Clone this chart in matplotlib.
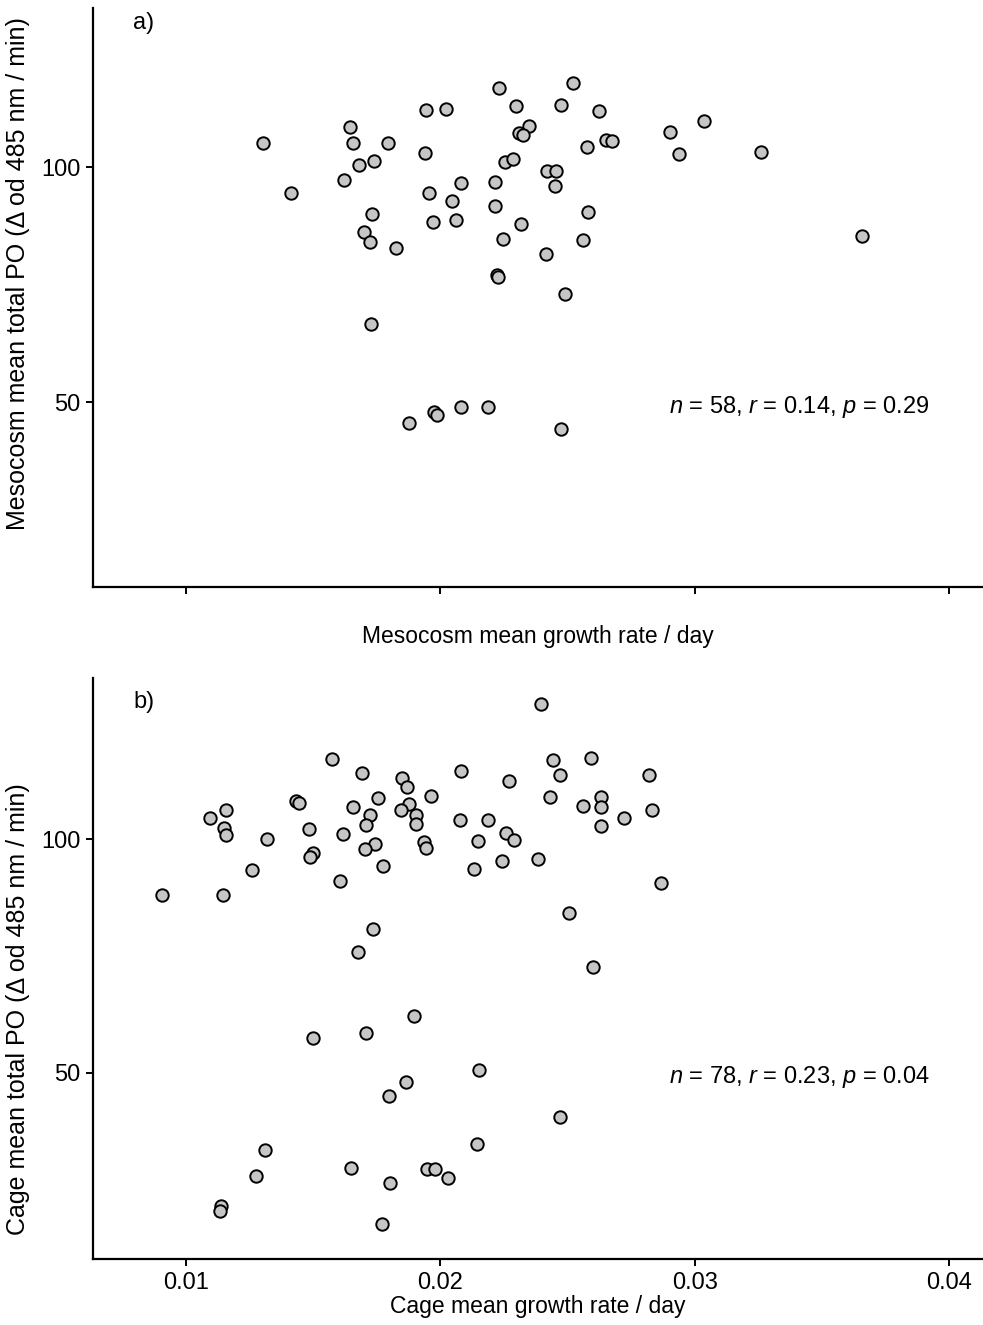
import matplotlib
matplotlib.use("Agg")
import matplotlib.pyplot as plt

plt.rcParams['font.family'] = ['Liberation Sans', 'DejaVu Sans']
plt.rcParams['mathtext.fontset'] = 'custom'
plt.rcParams['mathtext.rm'] = 'Liberation Sans'
plt.rcParams['mathtext.it'] = 'Liberation Sans:italic'

# Panel a) mesocosm means
meso_growth = [
    0.01305, 0.01413, 0.01647, 0.01659, 0.01793, 0.01738, 0.01682, 0.01620,
    0.01731, 0.01701, 0.01725, 0.01827, 0.01727, 0.01946, 0.02024, 0.01942,
    0.01954, 0.02080, 0.02048, 0.02063, 0.01973, 0.02233, 0.02299, 0.02349,
    0.02309, 0.02324, 0.02254, 0.02287, 0.02215, 0.02215, 0.02318, 0.02246,
    0.02224, 0.02227, 0.02523, 0.02476, 0.02418, 0.02457, 0.02451, 0.02417,
    0.02490, 0.02624, 0.02578, 0.02651, 0.02677, 0.02903, 0.03038, 0.02937,
    0.03262, 0.03658, 0.02582, 0.02560, 0.01878, 0.01975, 0.01988, 0.02082,
    0.02187, 0.02475,
]
meso_po = [
    105.2, 94.6, 108.6, 105.1, 105.2, 101.4, 100.4, 97.2,
    90.1, 86.2, 84.1, 82.9, 66.7, 112.1, 112.5, 103.0,
    94.6, 96.6, 92.9, 88.8, 88.4, 116.9, 113.1, 108.7,
    107.2, 106.9, 101.2, 101.7, 96.8, 91.7, 87.9, 84.8,
    77.0, 76.7, 117.9, 113.2, 99.3, 99.3, 96.1, 81.6,
    73.0, 111.9, 104.4, 105.9, 105.5, 107.5, 109.8, 102.8,
    103.3, 85.3, 90.5, 84.6, 45.6, 47.9, 47.3, 49.0,
    49.0, 44.3,
]

# Panel b) cage means
cage_growth = [
    0.02396, 0.01574, 0.01693, 0.01851, 0.01868, 0.02082, 0.02269, 0.02444,
    0.02471, 0.02433, 0.01433, 0.01444, 0.01757, 0.01962, 0.01656, 0.01877,
    0.01846, 0.01724, 0.01906, 0.01903, 0.01707, 0.01156, 0.01095, 0.01149,
    0.01156, 0.01319, 0.01485, 0.01618, 0.02076, 0.02189, 0.02260, 0.02290,
    0.02149, 0.01938, 0.01945, 0.01745, 0.01706, 0.01499, 0.01487, 0.01259,
    0.01774, 0.02131, 0.02242, 0.02385, 0.01607, 0.00906, 0.01148, 0.02505,
    0.01736, 0.01678, 0.02592, 0.02821, 0.02631, 0.02560, 0.02631, 0.02724,
    0.02834, 0.02631, 0.02869, 0.02599, 0.01896, 0.01709, 0.01498, 0.02151,
    0.01865, 0.01799, 0.02472, 0.02145, 0.01311, 0.01650, 0.01948, 0.01978,
    0.02029, 0.01275, 0.01801, 0.01137, 0.01133, 0.01770,
]
cage_po = [
    128.9, 117.1, 114.1, 113.1, 111.1, 114.5, 112.5, 116.9,
    113.7, 109.1, 108.2, 107.8, 108.9, 109.2, 106.9, 107.6,
    106.2, 105.1, 105.1, 103.2, 103.1, 106.3, 104.6, 102.4,
    100.9, 100.1, 102.1, 101.2, 104.0, 104.0, 101.4, 99.85,
    99.7, 99.3, 98.1, 98.9, 97.8, 97.1, 96.2, 93.3,
    94.3, 93.6, 95.3, 95.8, 91.0, 88.0, 88.0, 84.1,
    80.7, 75.9, 117.3, 113.7, 109.1, 107.0, 106.9, 104.6,
    106.3, 102.9, 90.6, 72.7, 62.2, 58.5, 57.4, 50.5,
    48.1, 44.9, 40.5, 34.7, 33.5, 29.6, 29.4, 29.4,
    27.4, 27.8, 26.4, 21.4, 20.4, 17.6,
]

x_ticks = [0.01, 0.02, 0.03, 0.04]
x_ticklabels = ['0.01', '0.02', '0.03', '0.04']
y_ticks = [50, 100]

panels = [
    dict(x=meso_growth, y=meso_po, tag='a)',
         xlabel='Mesocosm mean growth rate / day',
         ylabel='Mesocosm mean total PO (\u0394 od 485 nm / min)',
         stats=r'$n$ = 58, $r$ = 0.14, $p$ = 0.29',
         rect=[0.0946, 0.557, 0.9044, 0.437], ylim=(10.7, 133.9),
         show_xticklabels=False, ylabel_y=0.542, tag_y=0.974, xlabel_y=-0.066),
    dict(x=cage_growth, y=cage_po, tag='b)',
         xlabel='Cage mean growth rate / day',
         ylabel='Cage mean total PO (\u0394 od 485 nm / min)',
         stats=r'$n$ = 78, $r$ = 0.23, $p$ = 0.04',
         rect=[0.0946, 0.0498, 0.9044, 0.4385], ylim=(10.1, 134.5),
         show_xticklabels=True, ylabel_y=0.43, tag_y=0.959, xlabel_y=-0.062),
]

fig = plt.figure(figsize=(9.83, 13.25), dpi=100)

for p in panels:
    ax = fig.add_axes(p['rect'])
    ax.scatter(p['x'], p['y'], s=80, facecolor='#c6c6c6', edgecolor='black',
               linewidth=1.4, zorder=3)
    ax.set_xlim(0.00635, 0.0413)
    ax.set_ylim(*p['ylim'])
    ax.set_xticks(x_ticks)
    if p['show_xticklabels']:
        ax.set_xticklabels(x_ticklabels)
    else:
        ax.set_xticklabels([])
    ax.set_yticks(y_ticks)
    for side in ('top', 'right'):
        ax.spines[side].set_visible(False)
    for side in ('left', 'bottom'):
        ax.spines[side].set_linewidth(1.6)
    ax.tick_params(axis='both', direction='out', length=5, width=1.4,
                   labelsize=17, pad=4, colors='black')
    ax.set_xlabel(p['xlabel'], fontsize=16.5)
    ax.xaxis.set_label_coords(0.5, p['xlabel_y'])
    ax.set_ylabel(p['ylabel'], fontsize=18)
    ax.yaxis.set_label_coords(-0.071, p['ylabel_y'])
    ax.text(0.045, p['tag_y'], p['tag'], transform=ax.transAxes,
            fontsize=17, ha='left', va='center')
    ax.text(0.029, 49.0, p['stats'], fontsize=17, ha='left', va='center')

fig.savefig('out.png', dpi=100, facecolor='white')
